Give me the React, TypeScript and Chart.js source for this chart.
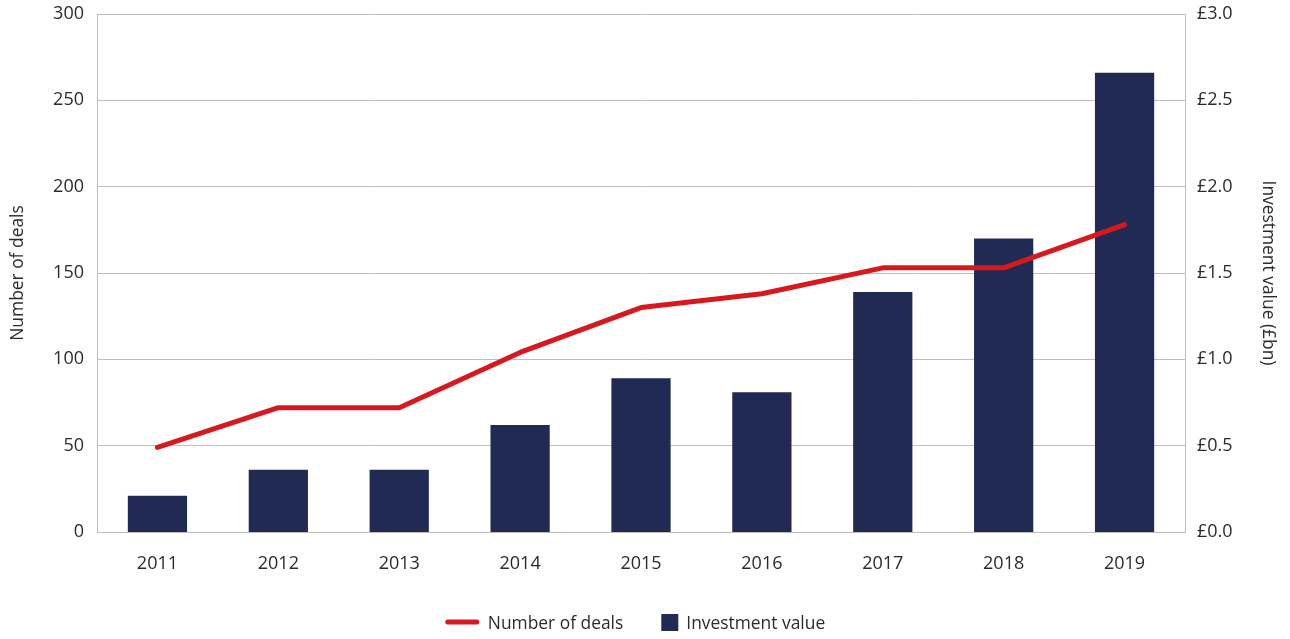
import React, { useEffect, useRef } from "react";
import { Chart, registerables } from "chart.js";

Chart.register(...registerables);

const years = ["2011", "2012", "2013", "2014", "2015", "2016", "2017", "2018", "2019"];
const numberOfDeals = [49, 72, 72, 104, 130, 138, 153, 153, 178];
const investmentValue = [0.21, 0.36, 0.36, 0.62, 0.89, 0.81, 1.39, 1.70, 2.66];
const leftTicks = [0, 50, 100, 150, 200, 250, 300];
const rightTicks = [0, 0.5, 1.0, 1.5, 2.0, 2.5, 3.0];

const FONT = "'Open Sans', sans-serif";
const TEXT = "#2b2b2b";
const GRID = "#bfbfbf";
const RED = "#d7191f";
const NAVY = "#212a52";
const TICK_SIZE = 18;
const LABEL_SIZE = 17.4;

const legendPlugin = {
  id: "customLegend",
  afterDraw(chart: any) {
    const ctx = chart.ctx as CanvasRenderingContext2D;
    ctx.save();
    ctx.font = `${LABEL_SIZE}px ${FONT}`;
    ctx.fillStyle = TEXT;
    ctx.textBaseline = "middle";
    const y = 622;
    const t1 = chart.data.datasets[0].label as string;
    const t2 = chart.data.datasets[1].label as string;
    const w1 = ctx.measureText(t1).width;
    const w2 = ctx.measureText(t2).width;
    const lineW = 33, gap1 = 9, mid = 38, box = 17, gap2 = 8;
    const total = lineW + gap1 + w1 + mid + box + gap2 + w2;
    let x = 635.5 - total / 2;
    ctx.strokeStyle = RED;
    ctx.lineWidth = 5;
    ctx.lineCap = "round";
    ctx.beginPath();
    ctx.moveTo(x + 2, y);
    ctx.lineTo(x + lineW - 2, y);
    ctx.stroke();
    x += lineW + gap1;
    ctx.fillText(t1, x, y + 2);
    x += w1 + mid;
    ctx.fillStyle = NAVY;
    ctx.fillRect(x, y - 8, box, box);
    x += box + gap2;
    ctx.fillStyle = TEXT;
    ctx.fillText(t2, x, y + 2);
    ctx.restore();
  },
};

export default function App() {
  const ref = useRef<HTMLCanvasElement | null>(null);
  useEffect(() => {
    if (!ref.current) return;
    const chart = new Chart(ref.current, {
      type: "bar",
      data: {
        labels: years,
        datasets: [
          {
            type: "line",
            label: "Number of deals",
            data: numberOfDeals,
            yAxisID: "y",
            borderColor: RED,
            backgroundColor: RED,
            borderWidth: 5,
            borderCapStyle: "round",
            borderJoinStyle: "round",
            pointRadius: 0,
            tension: 0,
            order: 0,
          } as any,
          {
            type: "bar",
            label: "Investment value",
            data: investmentValue,
            yAxisID: "y1",
            backgroundColor: NAVY,
            barPercentage: 0.49,
            categoryPercentage: 1,
            order: 1,
          } as any,
        ],
      },
      options: {
        animation: false,
        responsive: true,
        maintainAspectRatio: false,
        layout: { padding: { top: 14, left: 0, right: 0, bottom: 0 } },
        plugins: { legend: { display: false }, tooltip: { enabled: false } },
        scales: {
          x: {
            grid: { display: false, drawTicks: false },
            border: { display: true, color: GRID, width: 1 },
            ticks: { color: TEXT, font: { family: FONT, size: TICK_SIZE }, padding: 21 },
            afterFit: (s: any) => { s.height = 107; s.paddingLeft = 0; s.paddingRight = 0; },
          },
          y: {
            position: "left",
            min: 0,
            max: 300,
            afterBuildTicks: (s: any) => { s.ticks = leftTicks.map((v) => ({ value: v })); },
            grid: { color: GRID, drawTicks: false },
            border: { display: true, color: GRID },
            ticks: { color: TEXT, font: { family: FONT, size: TICK_SIZE }, padding: 13 },
            title: {
              display: true,
              text: "Number of deals",
              color: TEXT,
              font: { family: FONT, size: LABEL_SIZE },
              padding: { top: 8, bottom: 0 },
            },
            afterFit: (s: any) => { s.width = 97; s.paddingTop = 0; s.paddingBottom = 0; },
          },
          y1: {
            position: "right",
            min: 0,
            max: 3,
            afterBuildTicks: (s: any) => { s.ticks = rightTicks.map((v) => ({ value: v })); },
            grid: { display: false, drawTicks: false },
            border: { display: true, color: GRID },
            ticks: {
              color: TEXT,
              font: { family: FONT, size: TICK_SIZE },
              padding: 12,
              callback: (v: any) => "£" + Number(v).toFixed(1),
            },
            title: {
              display: true,
              text: "Investment value (£bn)",
              color: TEXT,
              font: { family: FONT, size: LABEL_SIZE },
              padding: { top: 12, bottom: 0 },
            },
            afterFit: (s: any) => { s.width = 105; s.paddingTop = 0; s.paddingBottom = 0; },
          },
        },
      },
      plugins: [legendPlugin],
    });
    return () => chart.destroy();
  }, []);
  return (
    <div style={{ position: "fixed", left: 0, top: 0, width: 1290, height: 639, background: "#fff" }}>
      <canvas ref={ref} />
    </div>
  );
}
